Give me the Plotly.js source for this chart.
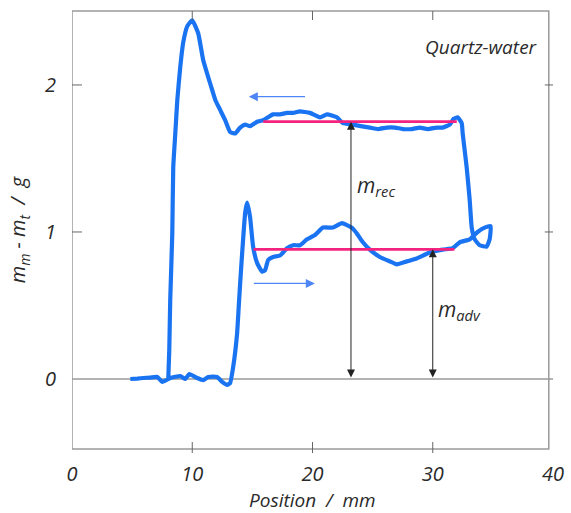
<!DOCTYPE html>
<html>
<head>
<meta charset="utf-8">
<script src="https://cdn.plot.ly/plotly-3.0.1.min.js"></script>
<style>html,body{margin:0;padding:0;background:#fff;}#chart{width:571px;height:513px;}</style>
</head>
<body>
<div id="chart"></div>
<script>
// Position (mm) and mass difference (g) along the measured loop
const posX = [4.85,5.44,5.93,6.51,7.10,7.51,8.17,9.00,9.42,9.75,10.41,10.91,11.33,12.07,12.49,12.90,13.15,
  13.40,13.73,13.90,14.07,14.23,14.40,14.56,14.81,15.06,15.39,15.81,16.06,16.31,16.72,17.30,17.88,18.38,18.96,
  19.54,20.21,20.87,21.70,22.45,23.27,23.69,24.19,24.77,25.60,26.43,27.01,27.84,28.67,29.75,30.83,31.66,32.24,
  33.07,33.73,34.32,34.81,34.73,34.48,33.90,33.49,33.24,33.07,32.82,32.49,32.41,32.07,31.74,31.41,30.83,30.33,
  29.59,28.92,28.26,27.51,26.85,26.18,25.44,24.77,24.02,23.36,22.53,22.03,21.20,20.62,19.79,18.96,18.38,17.88,
  17.30,16.72,15.89,15.39,14.81,14.40,13.98,13.57,13.15,12.74,12.32,11.91,11.49,10.91,10.50,10.00,9.59,9.25,
  9.00,8.76,8.59,8.42,8.34,8.17,8.09,8.01];
const massY = [0.00,0.003,0.007,0.01,0.014,-0.02,0.007,0.02,0.00,0.034,0.007,-0.007,0.014,0.014,-0.02,-0.04,-0.027,
  0.08,0.31,0.54,0.76,0.95,1.13,1.20,1.10,0.90,0.79,0.73,0.74,0.81,0.83,0.84,0.89,0.91,0.91,
  0.95,0.98,1.03,1.03,1.06,1.03,0.99,0.93,0.88,0.83,0.80,0.78,0.80,0.82,0.86,0.88,0.89,0.93,
  0.95,1.00,1.03,1.04,0.95,0.90,0.91,0.95,1.03,1.22,1.44,1.67,1.74,1.78,1.77,1.73,1.71,1.71,
  1.70,1.71,1.70,1.70,1.71,1.71,1.70,1.71,1.72,1.73,1.74,1.78,1.80,1.78,1.81,1.82,1.81,1.81,
  1.80,1.80,1.76,1.75,1.72,1.73,1.71,1.67,1.68,1.76,1.83,1.90,2.01,2.17,2.35,2.44,2.40,2.29,
  2.12,1.90,1.67,1.44,0.99,0.54,0.20,0.01];

// Reference levels
const recX = [15.9, 32.0], recY = [1.75, 1.75];
const advX = [15.1, 31.8], advY = [0.882, 0.882];

// Axis ticks
const xTicks = [0, 10, 20, 30, 40];
const yTicks = [0, 1, 2];
const xRange = [0, 40];
const yRange = [-0.476, 2.503];
const frameRight = 39.65;

// Measurement arrows
const recArrowX = 23.2, advArrowX = 30.0;
const recLevel = 1.75, advLevel = 0.882;

const blue = '#1a74f2';
const pink = '#f4237f';
const gray = '#9a9a9a';
const textCol = '#2a2a2a';
const fam = 'Open Sans, Noto Sans, sans-serif';

const traces = [
  {x: posX, y: massY, mode: 'lines', line: {color: blue, width: 4.2, shape: 'spline', smoothing: 0.4}, hoverinfo: 'skip'},
  {x: recX, y: recY, mode: 'lines', line: {color: pink, width: 2.8}, hoverinfo: 'skip'},
  {x: advX, y: advY, mode: 'lines', line: {color: pink, width: 2.8}, hoverinfo: 'skip'}
];

const shapes = [];
// frame
shapes.push({type: 'rect', xref: 'x', yref: 'paper', x0: 0, x1: frameRight, y0: 0, y1: 1,
  line: {color: gray, width: 1.5}, fillcolor: 'rgba(0,0,0,0)', layer: 'below'});
// zero line
shapes.push({type: 'line', xref: 'x', yref: 'y', x0: 0, x1: 40.1, y0: 0, y1: 0,
  line: {color: gray, width: 1.5}, layer: 'below'});
// x ticks (bottom crossing, top inside)
xTicks.filter(v => v > 0 && v < frameRight).forEach(v => {
  shapes.push({type: 'line', xref: 'x', yref: 'paper', x0: v, x1: v, ysizemode: 'pixel', yanchor: 0, y0: -4, y1: 7,
    line: {color: '#666', width: 1}});
  shapes.push({type: 'line', xref: 'x', yref: 'paper', x0: v, x1: v, ysizemode: 'pixel', yanchor: 1, y0: 0, y1: -9,
    line: {color: '#666', width: 1}});
});
// y ticks (left inside, right crossing)
yTicks.filter(v => v > 0).forEach(v => {
  shapes.push({type: 'line', xref: 'x', yref: 'y', y0: v, y1: v, xsizemode: 'pixel', xanchor: 0, x0: 0, x1: 10,
    line: {color: '#666', width: 1}});
  shapes.push({type: 'line', xref: 'x', yref: 'y', y0: v, y1: v, xsizemode: 'pixel', xanchor: frameRight, x0: -4, x1: 6,
    line: {color: '#666', width: 1}});
});

const annotations = [
  {x: 38.9, y: 2.26, xref: 'x', yref: 'y', text: 'Quartz-water', showarrow: false, xanchor: 'right',
    font: {family: fam, size: 19, style: 'italic', color: textCol}},
  // x axis title
  {x: 0.5, y: -0.117, xref: 'paper', yref: 'paper', text: 'Position  /  mm', showarrow: false,
    xanchor: 'center', yanchor: 'middle', font: {family: fam, size: 19, style: 'italic', color: textCol}},
  // direction arrows
  {x: 14.7, y: 1.92, ax: 19.5, ay: 1.92, xref: 'x', yref: 'y', axref: 'x', ayref: 'y', text: '',
    showarrow: true, arrowhead: 2, arrowsize: 1.4, arrowwidth: 1.3, arrowcolor: '#4f86f5'},
  {x: 20.2, y: 0.65, ax: 15.0, ay: 0.65, xref: 'x', yref: 'y', axref: 'x', ayref: 'y', text: '',
    showarrow: true, arrowhead: 2, arrowsize: 1.4, arrowwidth: 1.3, arrowcolor: '#4f86f5'},
  // measurement arrows
  {x: recArrowX, y: recLevel, ax: recArrowX, ay: 0, xref: 'x', yref: 'y', axref: 'x', ayref: 'y', text: '',
    showarrow: true, arrowhead: 2, startarrowhead: 2, arrowside: 'end+start', arrowsize: 1.6, startarrowsize: 1.6,
    arrowwidth: 1, arrowcolor: '#222'},
  {x: advArrowX, y: advLevel, ax: advArrowX, ay: 0, xref: 'x', yref: 'y', axref: 'x', ayref: 'y', text: '',
    showarrow: true, arrowhead: 2, startarrowhead: 2, arrowside: 'end+start', arrowsize: 1.6, startarrowsize: 1.6,
    arrowwidth: 1, arrowcolor: '#222'},
  {x: 23.55, y: 1.31, xref: 'x', yref: 'y', text: 'm<sub>rec</sub>', showarrow: false, xanchor: 'left',
    font: {family: fam, size: 21, style: 'italic', color: textCol}},
  {x: 30.3, y: 0.47, xref: 'x', yref: 'y', text: 'm<sub>adv</sub>', showarrow: false, xanchor: 'left',
    font: {family: fam, size: 21, style: 'italic', color: textCol}}
];

const layout = {
  width: 571, height: 513,
  margin: {l: 72, r: 18, t: 11, b: 64},
  paper_bgcolor: '#fff', plot_bgcolor: '#fff',
  showlegend: false,
  font: {family: fam, color: textCol},
  xaxis: {range: xRange, tickvals: xTicks, ticktext: xTicks.map(String), showgrid: false, zeroline: false,
    showline: false, ticks: '', ticklabelstandoff: 11,
    tickfont: {family: fam, size: 20, style: 'italic', color: textCol}},
  yaxis: {range: yRange, tickvals: yTicks, ticktext: yTicks.map(String), showgrid: false, zeroline: false,
    showline: false, ticks: '', ticklabelstandoff: 15,
    tickfont: {family: fam, size: 20, style: 'italic', color: textCol},
    title: {text: 'm<sub>m</sub> - m<sub>t</sub>  /  g', font: {family: fam, size: 20, style: 'italic', color: textCol}, standoff: 13}},
  shapes: shapes,
  annotations: annotations
};

Plotly.newPlot('chart', traces, layout, {displayModeBar: false, staticPlot: true});
</script>
</body>
</html>
